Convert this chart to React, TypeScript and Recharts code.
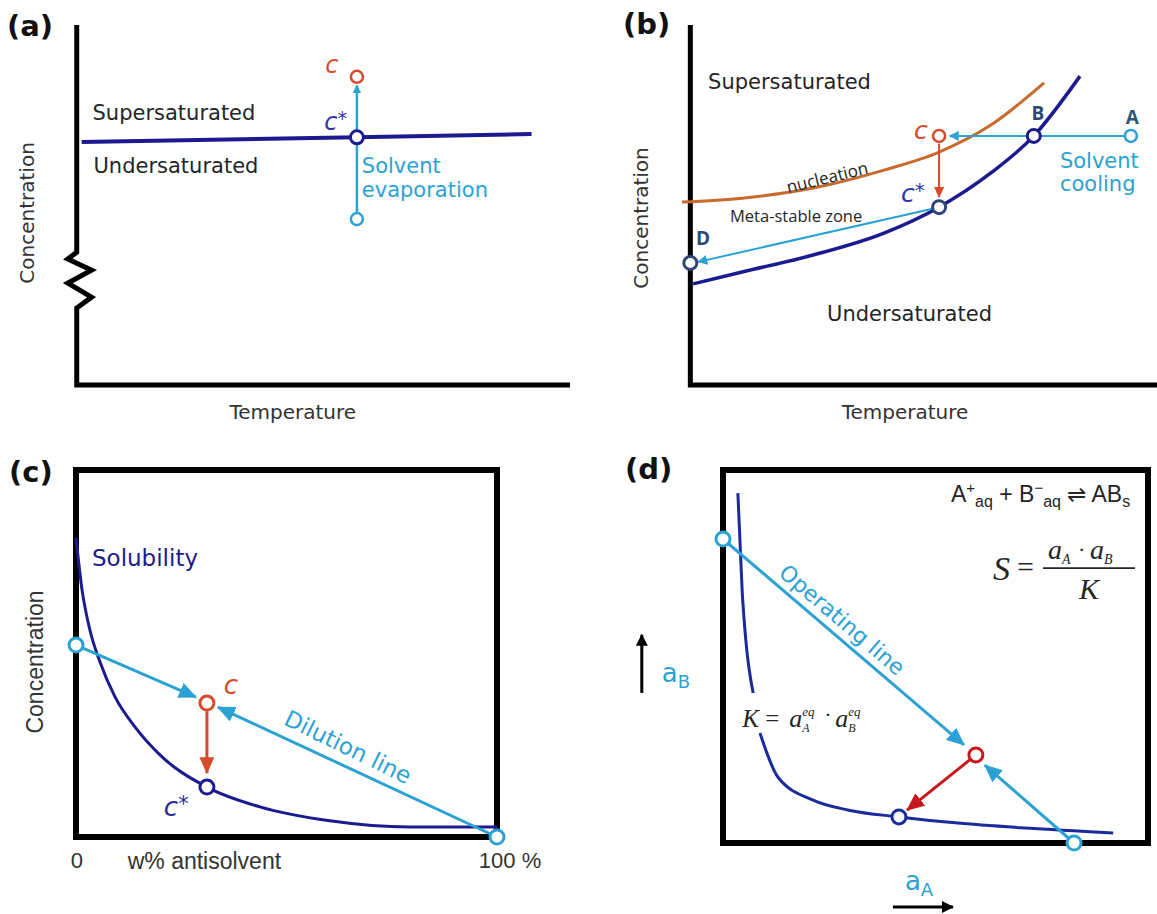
import React from "react";
import {
  ComposedChart,
  Line,
  ReferenceArea,
  ReferenceDot,
  Scatter,
  XAxis,
  YAxis,
} from "recharts";

type Pt = { x: number; y: number };

// (a) solvent evaporation at fixed temperature
const axisA: Pt[] = [
  { x: 0, y: 100 }, { x: 0, y: 36.9 }, { x: -1.8, y: 35 }, { x: 3, y: 31.9 },
  { x: -1.8, y: 28.3 }, { x: 3, y: 24.4 }, { x: 0, y: 21.4 }, { x: 0, y: 0 }, { x: 100, y: 0 },
];
const solubilityA: Pt[] = [{ x: 1, y: 67.5 }, { x: 56.8, y: 68.8 }, { x: 92.2, y: 69.7 }];
const evaporationA: Pt[] = [{ x: 56.8, y: 46.1 }, { x: 56.8, y: 83.2 }];
const startA: Pt[] = [{ x: 56.8, y: 46.1 }];
const saturatedA: Pt[] = [{ x: 56.8, y: 68.8 }];
const supersaturatedA: Pt[] = [{ x: 56.8, y: 85.6 }];

// (b) cooling crystallisation
const axisB: Pt[] = [{ x: 0, y: 100 }, { x: 0, y: 0 }, { x: 100, y: 0 }];
const nucleationB: Pt[] = [
  { x: -1.8, y: 50.8 }, { x: 11.1, y: 51.9 }, { x: 26.3, y: 54.7 }, { x: 41.5, y: 59.7 },
  { x: 53.3, y: 64.7 }, { x: 64.4, y: 72.2 }, { x: 75.8, y: 83.9 },
];
const solubilityB: Pt[] = [
  { x: 0.6, y: 28.1 }, { x: 11.1, y: 31.4 }, { x: 26.3, y: 36.1 }, { x: 41.5, y: 42.2 },
  { x: 53.3, y: 49.4 }, { x: 64.4, y: 58.9 }, { x: 73.6, y: 69.2 }, { x: 83.5, y: 85.8 },
];
const coolingB: Pt[] = [{ x: 94.4, y: 69.2 }, { x: 55.6, y: 69.2 }];
const growthB: Pt[] = [{ x: 53.3, y: 67 }, { x: 53.3, y: 52.2 }];
const drawdownB: Pt[] = [{ x: 53.3, y: 49.4 }, { x: 1.7, y: 34.2 }];
const pointA_B: Pt[] = [{ x: 94.4, y: 69.2 }];
const pointB_B: Pt[] = [{ x: 73.6, y: 69.2 }];
const pointC_B: Pt[] = [{ x: 53.3, y: 69.2 }];
const pointStar_B: Pt[] = [{ x: 53.3, y: 49.4 }];
const pointD_B: Pt[] = [{ x: 0, y: 33.9 }];

// (c) antisolvent addition
const solubilityC: Pt[] = [
  { x: 0, y: 81.5 }, { x: 1.4, y: 67.6 }, { x: 3.3, y: 56.4 }, { x: 5.7, y: 47.7 },
  { x: 9.3, y: 38.1 }, { x: 14, y: 30 }, { x: 20, y: 22.3 }, { x: 31.1, y: 13.6 },
  { x: 43.7, y: 8.2 }, { x: 60.3, y: 4.4 }, { x: 79.3, y: 2.7 }, { x: 100, y: 2.7 },
];
const solventSideC: Pt[] = [{ x: 0, y: 52.3 }, { x: 28.5, y: 38.1 }];
const dilutionC: Pt[] = [{ x: 100, y: 0 }, { x: 33.7, y: 35.4 }];
const dropC: Pt[] = [{ x: 31.1, y: 34.3 }, { x: 31.1, y: 17.4 }];
const feedC: Pt[] = [{ x: 0, y: 52.3 }, { x: 100, y: 0 }];
const mixC: Pt[] = [{ x: 31.1, y: 36.5 }];
const eqC: Pt[] = [{ x: 31.1, y: 13.6 }];

// (d) reactive precipitation
const equilibriumUpperD: Pt[] = [
  { x: 3.5, y: 93.8 }, { x: 4.5, y: 67.8 }, { x: 5.4, y: 54 }, { x: 7.1, y: 40.2 },
];
const equilibriumLowerD: Pt[] = [
  { x: 8.7, y: 29.5 }, { x: 12.9, y: 17.7 }, { x: 21.2, y: 11.5 }, { x: 29.6, y: 8.8 },
  { x: 41.4, y: 7 }, { x: 54.6, y: 5.4 }, { x: 71.3, y: 4 }, { x: 91.8, y: 2.7 },
];
const operatingD: Pt[] = [{ x: 0, y: 81.5 }, { x: 56.7, y: 26.3 }];
const returnD: Pt[] = [{ x: 82.6, y: 0 }, { x: 61.6, y: 20.9 }];
const relaxD: Pt[] = [{ x: 59.5, y: 23.6 }, { x: 43.3, y: 8.8 }];
const feedD: Pt[] = [{ x: 0, y: 81.5 }, { x: 82.6, y: 0 }];
const mixD: Pt[] = [{ x: 59.5, y: 23.6 }];
const eqD: Pt[] = [{ x: 41.4, y: 7 }];

const NAVY = "#1c1a8f";
const CYAN = "#2ba2d3";
const RED = "#d64b2b";
const CRIMSON = "#c8181f";
const ORANGE = "#c86a2c";
const SLATE = "#2d4675";
const INK = "#252525";
const VERDANA = "'DejaVu Sans', Verdana, sans-serif";
const ARIAL = "'Liberation Sans', Arial, sans-serif";
const TIMES = "'Liberation Serif', 'Times New Roman', serif";
const CALIBRI = "'Open Sans', sans-serif";

const ring = (color: string, r = 6.5, w = 3) => (p: any) => (
  <circle cx={p.cx} cy={p.cy} r={r} fill="#fff" stroke={color} strokeWidth={w} />
);

const arrowHead = (id: string, color: string, len: number, wid: number) => (
  <marker
    key={id}
    id={id}
    viewBox={`0 0 ${len} ${wid}`}
    markerWidth={len}
    markerHeight={wid}
    refX={len - 1}
    refY={wid / 2}
    orient="auto"
    markerUnits="userSpaceOnUse"
  >
    <path d={`M0,0 L${len},${wid / 2} L0,${wid} z`} fill={color} />
  </marker>
);

function path(key: string, data: Pt[], color: string, width: number, opts: { curve?: boolean; head?: string } = {}) {
  return (
    <Line
      key={key}
      data={data}
      dataKey="y"
      type={opts.curve ? "monotone" : "linear"}
      stroke={color}
      strokeWidth={width}
      dot={false}
      activeDot={false}
      markerEnd={opts.head ? `url(#${opts.head})` : undefined}
      isAnimationActive={false}
    />
  );
}

function dots(key: string, data: Pt[], color: string, r = 6.5, w = 3) {
  return <Scatter key={key} data={data} dataKey="y" shape={ring(color, r, w)} isAnimationActive={false} />;
}

function note(key: string, x: number, y: number, draw: (cx: number, cy: number) => React.ReactNode) {
  return (
    <ReferenceDot
      key={key}
      x={x}
      y={y}
      r={0}
      ifOverflow="visible"
      shape={(p: any) => <g>{draw(p.cx, p.cy)}</g>}
    />
  );
}

const vertical = (text: string, size: number, family: string) => (x: number, y: number) => (
  <text
    x={x}
    y={y}
    transform={`rotate(-90 ${x} ${y})`}
    textAnchor="middle"
    dominantBaseline="central"
    fontFamily={family}
    fontSize={size}
    fill="#333"
  >
    {text}
  </text>
);

const plain = (text: string, size: number, color: string, family = VERDANA, anchor = "start", extra: any = {}) =>
  (x: number, y: number) => (
    <text x={x} y={y} textAnchor={anchor} fontFamily={family} fontSize={size} fill={color} {...extra}>
      {text}
    </text>
  );

const cLabel = (star: boolean, color: string, size: number) => (x: number, y: number) => (
  <text x={x} y={y} textAnchor="middle" fontFamily={VERDANA} fontStyle="italic" fontSize={size} fill={color}>
    c
    {star ? (
      <tspan fontStyle="normal" fontSize={size * 0.8} dy={-size * 0.2}>
        *
      </tspan>
    ) : null}
  </text>
);

const tagStyle: React.CSSProperties = {
  position: "absolute",
  fontFamily: "'DejaVu Sans', sans-serif",
  fontWeight: 700,
  fontSize: 29,
  lineHeight: "29px",
  color: "#111",
};

function PanelA() {
  return (
    <ComposedChart width={580} height={440} margin={{ top: 25, right: 10, bottom: 55, left: 57 }}>
      <defs>{arrowHead("headA", CYAN, 9, 9)}</defs>
      <XAxis type="number" dataKey="x" domain={[-4, 100]} hide />
      <YAxis type="number" dataKey="y" domain={[0, 100]} hide />
      {path("axis", axisA, "#000", 5)}
      {path("sol", solubilityA, NAVY, 4)}
      {path("evap", evaporationA, CYAN, 2.5, { head: "headA" })}
      {dots("start", startA, CYAN, 6, 2.5)}
      {dots("sat", saturatedA, NAVY, 6.5, 3)}
      {dots("super", supersaturatedA, RED, 6, 2.5)}
      {note("sup", 3.2, 73.5, plain("Supersaturated", 21, INK))}
      {note("und", 3.4, 59, plain("Undersaturated", 21, INK))}
      {note("solv", 57.8, 58.9, plain("Solvent", 21, CYAN))}
      {note("evap-t", 57.8, 52.1, plain("evaporation", 21, CYAN))}
      {note("c", 51.7, 86.7, cLabel(false, RED, 24))}
      {note("cs", 52.5, 70.8, cLabel(true, "#3434a6", 24))}
      {note("yl", -10.1, 47.8, vertical("Concentration", 20, VERDANA))}
      {note("xl", 43.8, -7.5, plain("Temperature", 20, "#333", VERDANA, "middle", { dominantBaseline: "central" }))}
    </ComposedChart>
  );
}

function PanelB() {
  return (
    <ComposedChart width={567} height={440} margin={{ top: 25, right: 0, bottom: 55, left: 77 }}>
      <defs>
        {arrowHead("headB1", CYAN, 10, 10)}
        {arrowHead("headB2", RED, 11, 10)}
      </defs>
      <XAxis type="number" dataKey="x" domain={[-5, 100]} hide />
      <YAxis type="number" dataKey="y" domain={[0, 100]} hide />
      {path("axis", axisB, "#000", 5)}
      {path("nuc", nucleationB, ORANGE, 3, { curve: true })}
      {path("sol", solubilityB, NAVY, 3.5, { curve: true })}
      {path("cool", coolingB, CYAN, 2, { head: "headB1" })}
      {path("grow", growthB, RED, 2, { head: "headB2" })}
      {path("down", drawdownB, CYAN, 2, { head: "headB1" })}
      {dots("pa", pointA_B, CYAN, 6, 2.5)}
      {dots("pb", pointB_B, NAVY, 6.5, 3)}
      {dots("pc", pointC_B, RED, 6, 2.5)}
      {dots("ps", pointStar_B, SLATE, 6.5, 3)}
      {dots("pd", pointD_B, SLATE, 6.5, 3)}
      {note("sup", 3.8, 82.1, plain("Supersaturated", 21, INK))}
      {note("und", 29.3, 17.9, plain("Undersaturated", 21, INK))}
      {note("nuc-t", 29.3, 57.8, (x, y) => (
        <text x={x} y={y} transform={`rotate(-14 ${x} ${y})`} textAnchor="middle" dominantBaseline="central"
          fontFamily={CALIBRI} fontSize={17} fill={INK}>
          nucleation
        </text>
      ))}
      {note("meta", 8.5, 45.3, plain("Meta-stable zone", 16.5, INK, CALIBRI))}
      {note("lb", 74.5, 73.6, plain("B", 19, SLATE, CALIBRI, "middle", { fontWeight: 700 }))}
      {note("la", 94.7, 72.5, plain("A", 19, "#2b5577", CALIBRI, "middle", { fontWeight: 700 }))}
      {note("ld", 2.7, 38.9, plain("D", 19, SLATE, CALIBRI, "middle", { fontWeight: 700 }))}
      {note("c", 49.4, 68.3, cLabel(false, RED, 25))}
      {note("cs", 47.7, 50.8, cLabel(true, "#3434a6", 25))}
      {note("solv", 79.2, 60.3, plain("Solvent", 21, CYAN))}
      {note("cool-t", 79.2, 53.9, plain("cooling", 21, CYAN))}
      {note("yl", -10.6, 46.4, vertical("Concentration", 20, VERDANA))}
      {note("xl", 46, -7.5, plain("Temperature", 20, "#333", VERDANA, "middle", { dominantBaseline: "central" }))}
    </ComposedChart>
  );
}

function PanelC() {
  return (
    <ComposedChart width={580} height={474} margin={{ top: 30, right: 83, bottom: 77, left: 76 }}>
      <defs>
        {arrowHead("headC1", CYAN, 18, 16)}
        {arrowHead("headC2", RED, 17, 15)}
      </defs>
      <XAxis type="number" dataKey="x" domain={[0, 100]} hide />
      <YAxis type="number" dataKey="y" domain={[0, 100]} hide />
      <ReferenceArea x1={0} x2={100} y1={0} y2={100} fill="none" stroke="#000" strokeWidth={6} />
      {path("sol", solubilityC, NAVY, 3, { curve: true })}
      {path("mix1", solventSideC, CYAN, 3, { head: "headC1" })}
      {path("mix2", dilutionC, CYAN, 3, { head: "headC1" })}
      {path("drop", dropC, RED, 3, { head: "headC2" })}
      {dots("feed", feedC, CYAN, 7, 3)}
      {dots("mix", mixC, RED, 7, 3)}
      {dots("eq", eqC, NAVY, 7, 3)}
      {note("solub", 3.8, 73.8, plain("Solubility", 23, NAVY))}
      {note("c", 36.8, 39, cLabel(false, RED, 26))}
      {note("cs", 23.8, 5.7, cLabel(true, "#2a2a9c", 26))}
      {note("dil", 64.6, 24.5, (x, y) => (
        <text x={x} y={y} transform={`rotate(26 ${x} ${y})`} textAnchor="middle" dominantBaseline="central"
          fontFamily={VERDANA} fontSize={23} fill={CYAN}>
          Dilution line
        </text>
      ))}
      {note("x0", 0.2, -6.5, plain("0", 22, "#333", ARIAL, "middle", { dominantBaseline: "central" }))}
      {note("xw", 30.5, -6.5, plain("w% antisolvent", 23, "#333", ARIAL, "middle", { dominantBaseline: "central" }))}
      {note("x100", 103.1, -6.5, plain("100 %", 22, "#333", ARIAL, "middle", { dominantBaseline: "central" }))}
      {note("yl", -9.7, 47.7, vertical("Concentration", 23, ARIAL))}
    </ComposedChart>
  );
}

function PanelD() {
  return (
    <ComposedChart width={567} height={474} margin={{ top: 30, right: 9, bottom: 71, left: 133 }}>
      <defs>
        {arrowHead("headD1", CYAN, 18, 16)}
        {arrowHead("headD2", CRIMSON, 18, 16)}
        {arrowHead("headD3", "#000", 12, 12)}
      </defs>
      <XAxis type="number" dataKey="x" domain={[0, 100]} hide />
      <YAxis type="number" dataKey="y" domain={[0, 100]} hide />
      <ReferenceArea x1={0} x2={100} y1={0} y2={100} fill="none" stroke="#000" strokeWidth={6} />
      {path("eqU", equilibriumUpperD, "#1a2b9c", 3, { curve: true })}
      {path("eqL", equilibriumLowerD, "#1a2b9c", 3, { curve: true })}
      {path("op", operatingD, CYAN, 3, { head: "headD1" })}
      {path("ret", returnD, CYAN, 3, { head: "headD1" })}
      {path("rel", relaxD, CRIMSON, 3, { head: "headD2" })}
      {dots("feed", feedD, CYAN, 7, 3)}
      {dots("mix", mixD, CRIMSON, 7, 3)}
      {dots("eq", eqD, "#1a2b9c", 7, 3)}
      {note("rx", 95.8, 91.4, (x, y) => (
        <text x={x} y={y} textAnchor="end" fontFamily={ARIAL} fontSize={23} fill={INK}>
          A<tspan fontSize={15} dy={-9}>+</tspan>
          <tspan fontSize={16} dy={14}>aq</tspan>
          <tspan dy={-5}> + B</tspan>
          <tspan fontSize={15} dy={-9}>−</tspan>
          <tspan fontSize={16} dy={14}>aq</tspan>
          <tspan dy={-5}> ⇌ AB</tspan>
          <tspan fontSize={16} dy={5}>s</tspan>
        </text>
      ))}
      {note("sf", 75.3, 73.7, (x, y) => (
        <g fontFamily={TIMES} fontStyle="italic" fill={INK}>
          <text x={x - 50} y={y + 12} fontSize={34}>S</text>
          <text x={x - 26} y={y + 9} fontSize={30} fontStyle="normal">=</text>
          <line x1={x} y1={y} x2={x + 92} y2={y} stroke={INK} strokeWidth={1.6} />
          <text x={x + 5} y={y - 9} fontSize={28}>a</text>
          <text x={x + 19} y={y - 4} fontSize={14}>A</text>
          <text x={x + 35} y={y - 11} fontSize={22} fontStyle="normal">·</text>
          <text x={x + 47} y={y - 9} fontSize={28}>a</text>
          <text x={x + 61} y={y - 4} fontSize={14}>B</text>
          <text x={x + 46} y={y + 31} fontSize={30} textAnchor="middle">K</text>
        </g>
      ))}
      {note("kf", 4.5, 31.1, (x, y) => (
        <g fontFamily={TIMES} fontStyle="italic" fill={INK}>
          <text x={x} y={y} fontSize={25}>K</text>
          <text x={x + 23} y={y} fontSize={25} fontStyle="normal">=</text>
          <text x={x + 47} y={y} fontSize={26}>a</text>
          <text x={x + 60} y={y - 11} fontSize={13}>eq</text>
          <text x={x + 60} y={y + 5} fontSize={12}>A</text>
          <text x={x + 82} y={y - 5} fontSize={22} fontStyle="normal">·</text>
          <text x={x + 93} y={y} fontSize={26}>a</text>
          <text x={x + 106} y={y - 11} fontSize={13}>eq</text>
          <text x={x + 106} y={y + 5} fontSize={12}>B</text>
        </g>
      ))}
      {note("opl", 28, 59.8, (x, y) => (
        <text x={x} y={y} transform={`rotate(40.5 ${x} ${y})`} textAnchor="middle" dominantBaseline="central"
          fontFamily={VERDANA} fontSize={22} fill={CYAN}>
          Operating line
        </text>
      ))}
      {note("ab", -14.4, 43.2, (x, y) => (
        <g>
          <line x1={x - 20} y1={y + 11} x2={x - 20} y2={y - 47} stroke="#000" strokeWidth={3} markerEnd="url(#headD3)" />
          <text x={x} y={y} fontFamily={VERDANA} fontSize={26} fill={CYAN}>
            a<tspan fontSize={18} dy={6}>B</tspan>
          </text>
        </g>
      ))}
      {note("aa", 42.8, -12.6, (x, y) => (
        <g>
          <line x1={x - 12} y1={y + 17} x2={x + 48} y2={y + 17} stroke="#000" strokeWidth={3} markerEnd="url(#headD3)" />
          <text x={x} y={y} fontFamily={VERDANA} fontSize={26} fill={CYAN}>
            a<tspan fontSize={18} dy={6}>A</tspan>
          </text>
        </g>
      ))}
    </ComposedChart>
  );
}

export default function App() {
  return (
    <div style={{ position: "absolute", left: 0, top: 0, width: 1157, height: 914, background: "#fff", overflow: "hidden" }}>
      <div style={{ position: "absolute", left: 0, top: 0 }}><PanelA /></div>
      <div style={{ position: "absolute", left: 590, top: 0 }}><PanelB /></div>
      <div style={{ position: "absolute", left: 0, top: 440 }}><PanelC /></div>
      <div style={{ position: "absolute", left: 590, top: 440 }}><PanelD /></div>
      <div style={{ ...tagStyle, left: 7, top: 12 }}>(a)</div>
      <div style={{ ...tagStyle, left: 623, top: 10 }}>(b)</div>
      <div style={{ ...tagStyle, left: 9, top: 458 }}>(c)</div>
      <div style={{ ...tagStyle, left: 625, top: 455 }}>(d)</div>
    </div>
  );
}
